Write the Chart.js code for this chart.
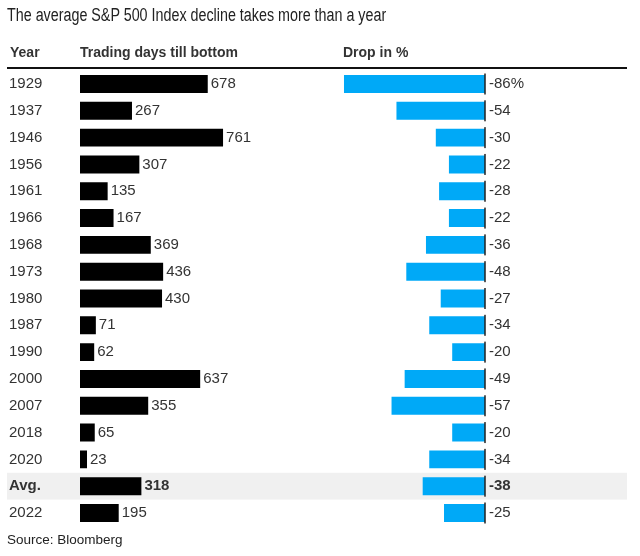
<!DOCTYPE html>
<html lang="en">
<head>
    <meta charset="UTF-8">
    <title>S&amp;P 500 declines</title>
    <script src="https://cdn.jsdelivr.net/npm/chart.js"></script>
    <style>
        body {
            margin: 0;
            background: #fff;
            font-family: "Liberation Sans", Arial, sans-serif;
            color: #333;
        }

        .wrap {
            position: relative;
            width: 640px;
            height: 556px;
        }

        .title {
            position: absolute;
            left: 7px;
            top: 5px;
            font-size: 18px;
            color: #222;
            white-space: nowrap;
            transform: scaleX(0.795);
            transform-origin: left top;
        }

        .head {
            position: absolute;
            top: 44px;
            font-size: 14px;
            font-weight: bold;
            color: #333;
            white-space: nowrap;
        }

        .rule {
            position: absolute;
            left: 7px;
            top: 67px;
            width: 620px;
            height: 2px;
            background: #111;
        }

        .source {
            position: absolute;
            left: 7px;
            top: 532px;
            font-size: 13.5px;
            color: #222;
        }

        canvas {
            position: absolute;
            left: 0;
            top: 0;
        }
    </style>
</head>
<body>
    <div class="wrap">
        <canvas id="rows" width="640" height="556"></canvas>
        <div class="title">The average S&amp;P 500 Index decline takes more than a year</div>
        <div class="head" style="left: 10px">Year</div>
        <div class="head" style="left: 80px">Trading days till bottom</div>
        <div class="head" style="left: 343px">Drop in %</div>
        <div class="rule"></div>
        <div class="source">Source: Bloomberg</div>
    </div>

    <script>
        // data
        const years = ['1929', '1937', '1946', '1956', '1961', '1966', '1968', '1973', '1980',
            '1987', '1990', '2000', '2007', '2018', '2020', 'Avg.', '2022'];
        const tradingDays = [678, 267, 761, 307, 135, 167, 369, 436, 430, 71, 62, 637, 355, 65, 23, 318, 195];
        const dropPct = [-86, -54, -30, -22, -28, -22, -36, -48, -27, -34, -20, -49, -57, -20, -34, -38, -25];

        const avgIndex = years.indexOf('Avg.');
        const rowFont = (bold) => ({ family: '"Liberation Sans", Arial, sans-serif', size: 15, weight: bold ? 'bold' : 'normal' });

        // grey band behind the average row (drawn before the axis labels)
        const avgBand = {
            id: 'avgBand',
            beforeDraw(chart) {
                const y = chart.scales.y;
                const c = y.getPixelForValue(avgIndex);
                const h = Math.abs(y.getPixelForValue(1) - y.getPixelForValue(0));
                const g = chart.ctx;
                g.save();
                g.fillStyle = '#f0f0f0';
                g.fillRect(7, c - h / 2, 620, h);
                g.restore();
            }
        };

        // value labels and the zero tick of the drop column
        const barLabels = {
            id: 'barLabels',
            afterDatasetsDraw(chart) {
                const g = chart.ctx;
                const zero = chart.scales.x2.getPixelForValue(0);
                g.save();
                g.textBaseline = 'middle';
                g.textAlign = 'left';
                chart.getDatasetMeta(0).data.forEach((bar, i) => {
                    const f = rowFont(i === avgIndex);
                    g.font = f.weight + ' ' + f.size + 'px ' + f.family;
                    g.fillStyle = '#333';
                    g.fillText(String(tradingDays[i]), bar.x + 3, bar.y);
                });
                chart.getDatasetMeta(1).data.forEach((bar, i) => {
                    const f = rowFont(i === avgIndex);
                    g.font = f.weight + ' ' + f.size + 'px ' + f.family;
                    g.fillStyle = '#333';
                    g.fillText(dropPct[i] + (i === 0 ? '%' : ''), zero + 4, bar.y);
                    g.fillStyle = '#222';
                    g.fillRect(zero - 0.75, bar.y - 10.5, 1.5, 21);
                });
                g.restore();
            }
        };

        new Chart(document.getElementById('rows'), {
            type: 'bar',
            data: {
                labels: years,
                datasets: [{
                    label: 'Trading days till bottom',
                    data: tradingDays,
                    xAxisID: 'x',
                    base: -15,
                    backgroundColor: '#000',
                    barPercentage: 0.67,
                    categoryPercentage: 1,
                }, {
                    label: 'Drop in %',
                    data: dropPct,
                    xAxisID: 'x2',
                    backgroundColor: '#00a9f7',
                    barPercentage: 0.67,
                    categoryPercentage: 1,
                }],
            },
            options: {
                indexAxis: 'y',
                responsive: false,
                animation: false,
                grouped: false,
                layout: {
                    padding: { top: 70.6, bottom: 29.6, left: 9, right: 155 },
                },
                scales: {
                    x: { display: false, min: -15, max: 2182 },
                    x2: { display: false, min: -247, max: 0 },
                    y: {
                        grid: { display: false },
                        border: { display: false },
                        afterFit: (s) => { s.width = 71; },
                        ticks: {
                            crossAlign: 'far',
                            color: '#333',
                            font: (ctx) => rowFont(ctx.index === avgIndex),
                        },
                    },
                },
                plugins: {
                    legend: { display: false },
                    tooltip: { enabled: false },
                },
            },
            plugins: [avgBand, barLabels],
        });
    </script>
</body>
</html>
